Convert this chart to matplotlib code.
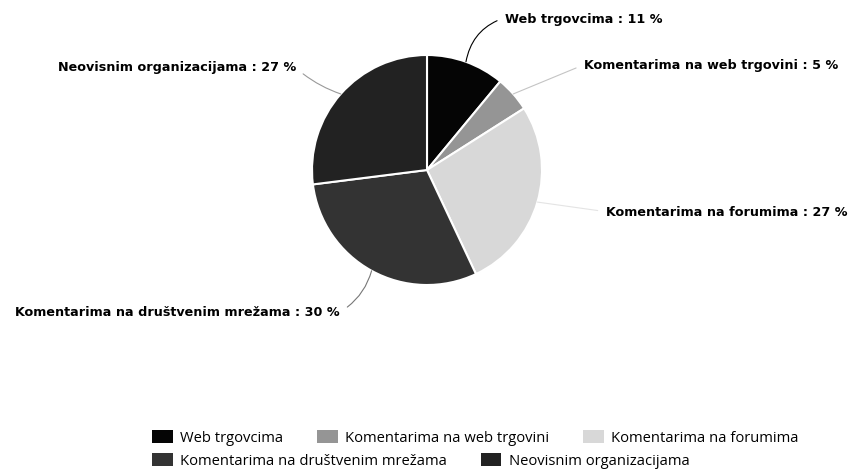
import numpy as np
import matplotlib
matplotlib.use("Agg")
import matplotlib.pyplot as plt
from matplotlib.patches import Patch

# data
categories = ["Web trgovcima", "Komentarima na web trgovini", "Komentarima na forumima",
              "Komentarima na društvenim mrežama", "Neovisnim organizacijama"]
shares = [11, 5, 27, 30, 27]
colors = ["#050505", "#959595", "#d8d8d8", "#333333", "#222222"]

# where each label sits (figure pixels from top-left) and its alignment
label_pos = [(505, 19, "left"), (584, 66, "left"), (606, 213, "left"),
             (340, 312, "right"), (296, 68, "right")]
line_cols = ["#000000", "#c4c4c4", "#e4e4e4", "#777777", "#999999"]
line_rad = [0.3, 0.0, 0.0, 0.2, 0.1]

W, H = 855, 470
fig = plt.figure(figsize=(W / 100, H / 100), dpi=100)
fig.patch.set_facecolor("white")

cx, cy, r = 427, 170, 115
ax = fig.add_axes([(cx - r) / W, (H - cy - r) / H, 2 * r / W, 2 * r / H])
wedges, _ = ax.pie(shares, colors=colors, startangle=90, counterclock=False,
                   radius=1, wedgeprops=dict(edgecolor="white", linewidth=1.5))
ax.set_xlim(-1, 1)
ax.set_ylim(-1, 1)
ax.set_aspect("equal")
ax.axis("off")

for w, name, val, (tx, ty, ha), lc, rad in zip(wedges, categories, shares, label_pos,
                                               line_cols, line_rad):
    ang = np.deg2rad((w.theta1 + w.theta2) / 2)
    rel = (0, 0.6) if ha == "left" else (1, 0.5)
    ax.annotate(f"{name} : {val} %", xy=(np.cos(ang), np.sin(ang)),
                xytext=(tx, H - ty), textcoords="figure pixels",
                ha=ha, va="center", fontsize=9.2, fontweight="bold",
                family="DejaVu Sans", annotation_clip=False,
                arrowprops=dict(arrowstyle="-", color=lc, lw=0.8, shrinkA=4, shrinkB=0,
                                relpos=rel, connectionstyle=f"arc3,rad={rad}"))

handles = [Patch(facecolor=c, edgecolor="none") for c in colors]
leg_kw = dict(frameon=False, handlelength=1.4, handleheight=1.0, handletextpad=0.5,
              columnspacing=2.3, borderaxespad=0, borderpad=0,
              prop=dict(family="Open Sans", size=10.6), loc="upper left")
leg1 = fig.legend(handles[:3], categories[:3], ncol=3,
                  bbox_to_anchor=(152 / W, 1 - 430 / H), **leg_kw)
leg2 = fig.legend(handles[3:], categories[3:], ncol=2,
                  bbox_to_anchor=(152 / W, 1 - 453 / H), **leg_kw)

fig.savefig("out.png", dpi=100, facecolor="white")
